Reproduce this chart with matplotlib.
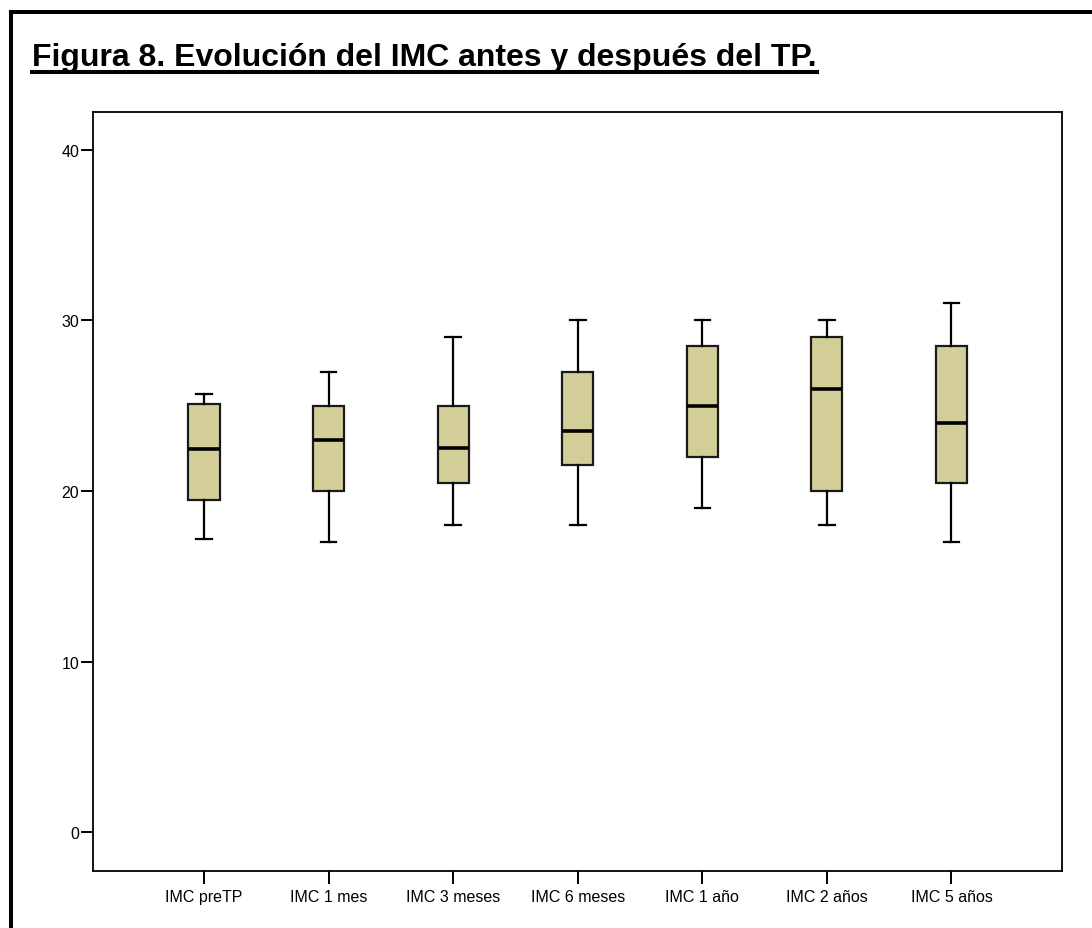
import matplotlib
matplotlib.use("Agg")
import matplotlib.pyplot as plt
from matplotlib.lines import Line2D

plt.rcParams['font.family'] = ['Liberation Sans', 'DejaVu Sans']

# Resumen de cinco numeros (IMC)
etiquetas = ["IMC preTP", "IMC 1 mes", "IMC 3 meses", "IMC 6 meses",
             "IMC 1 año", "IMC 2 años", "IMC 5 años"]
bigote_inf = [17.2, 17.0, 18.0, 18.0, 19.0, 18.0, 17.0]
q1 = [19.5, 20.0, 20.5, 21.5, 22.0, 20.0, 20.5]
mediana = [22.45, 23.0, 22.5, 23.5, 25.0, 26.0, 24.0]
q3 = [25.1, 25.0, 25.0, 27.0, 28.5, 29.0, 28.5]
bigote_sup = [25.7, 27.0, 29.0, 30.0, 30.0, 30.0, 31.0]
yticks = [0, 10, 20, 30, 40]

W, H = 1092, 929
fig = plt.figure(figsize=(W / 100, H / 100), dpi=100)
ax = fig.add_axes([93 / W, 1 - 872.3 / H, (1062 - 93) / W, (872.3 - 113.3) / H])

stats = []
for i in range(len(etiquetas)):
    stats.append({"whislo": bigote_inf[i], "q1": q1[i], "med": mediana[i],
                  "q3": q3[i], "whishi": bigote_sup[i], "fliers": []})

ax.bxp(stats, positions=range(1, len(etiquetas) + 1), widths=0.25,
       patch_artist=True, showfliers=False,
       boxprops=dict(facecolor="#D3CE98", edgecolor="#1a1a1a", linewidth=1.6),
       medianprops=dict(color="black", linewidth=2.6),
       whiskerprops=dict(color="black", linewidth=1.6),
       capprops=dict(color="black", linewidth=1.6))

ax.set_xlim(0.109, 7.887)
ax.set_ylim(-2.29, 42.2)
ax.set_yticks(yticks)
ax.set_xticks(range(1, len(etiquetas) + 1))
ax.set_xticklabels(etiquetas)
ax.tick_params(axis="both", labelsize=11.5, length=9, width=1.4, color="black")
ax.tick_params(axis="y", pad=1)
ax.tick_params(axis="x", pad=4)
for s in ax.spines.values():
    s.set_linewidth(1.3)

# Marco exterior (solo arriba e izquierda visibles)
fig.add_artist(Line2D([10.75 / W, 10.75 / W], [1 - 13 / H, 0], color="black",
                      linewidth=2.9, transform=fig.transFigure))
fig.add_artist(Line2D([10.75 / W, 1], [1 - 13 / H, 1 - 13 / H], color="black",
                      linewidth=2.9, transform=fig.transFigure))

# Titulo subrayado
titulo = fig.text(32 / W, 1 - 66 / H, "Figura 8. Evolución del IMC antes y después del TP.",
                  fontsize=23, fontweight="bold", va="baseline", ha="left")
fig.canvas.draw()
bb = titulo.get_window_extent()
fig.add_artist(Line2D([32 / W, bb.x1 / W], [1 - 73 / H, 1 - 73 / H], color="black",
                      linewidth=2.9, transform=fig.transFigure))

fig.savefig("out.png", dpi=100)
